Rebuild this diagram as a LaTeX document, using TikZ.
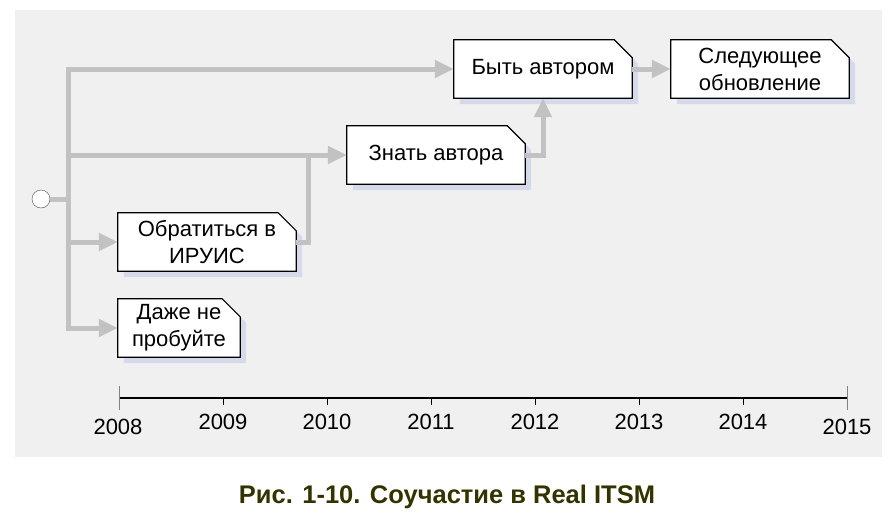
\documentclass[tikz,border=0pt]{standalone}
\usepackage{fontspec}
\setmainfont{Liberation Sans}
\usetikzlibrary{arrows.meta,backgrounds}
\definecolor{panelgray}{RGB}{240,240,240}
\definecolor{flowgray}{RGB}{194,194,194}
\definecolor{shadowblue}{RGB}{214,217,233}
\definecolor{captiongreen}{RGB}{51,51,0}
\tikzset{
  notebox/.style={minimum width=178pt, minimum height=58pt, inner sep=0pt,
    align=center, font=\fontsize{22}{27}\selectfont},
  flow/.style={line width=5pt, draw=flowgray},
  flowarrow/.style={flow, -{Triangle[length=19pt,width=17pt]}},
  year/.style={font=\fontsize{22}{26}\selectfont},
}
% box with a folded corner and a shadow
\newcommand{\foldbox}[1]{%
  \begin{scope}[on background layer]
    \fill[shadowblue] ([shift={(6pt,-6pt)}]#1.south west) -- ([shift={(6pt,-6pt)}]#1.north west)
      -- ([shift={(-12pt,-6pt)}]#1.north east) -- ([shift={(6pt,-24pt)}]#1.north east)
      -- ([shift={(6pt,-6pt)}]#1.south east) -- cycle;
    \fill[white] (#1.south west) -- (#1.north west) -- ([xshift=-18pt]#1.north east)
      -- ([yshift=-18pt]#1.north east) -- (#1.south east) -- cycle;
  \end{scope}
  \draw[line width=1.2pt] (#1.south west) -- (#1.north west) -- ([xshift=-18pt]#1.north east)
    -- ([yshift=-18pt]#1.north east) -- (#1.south east) -- cycle;}
\begin{document}
\begin{tikzpicture}[x=1pt,y=-1pt]
\useasboundingbox (0,0) rectangle (895,525);
\begin{scope}[on background layer]
\fill[panelgray] (15,10) rectangle (882,457);
\end{scope}
% start point
\node[circle, draw=black!70, fill=white, minimum size=18pt, inner sep=0pt] (start) at (41,199) {};
% boxes
\node[notebox] (author) at (543,69) {Быть автором};
\node[notebox] (next) at (760,69) {Следующее\\обновление};
\node[notebox] (know) at (436,155) {Знать автора};
\node[notebox] (iruis) at (207,242) {Обратиться в\\ИРУИС};
\node[notebox, minimum width=122pt] (never) at (179,328) {Даже не\\пробуйте};
\foreach \b in {author,next,know,iruis,never} {\foldbox{\b}}
% connectors
\coordinate (fork) at (68,199);
\coordinate (trunktop) at (68,69);
\coordinate (trunkbot) at (68,328);
\coordinate (join) at (308,155);
\draw[flow] (start) -- (fork);
\draw[flowarrow] (trunkbot) |- (author);
\draw[flowarrow] (trunktop) |- (never);
\draw[flowarrow] (fork |- know) -- (know);
\draw[flowarrow] (fork |- iruis) -- (iruis);
\draw[flow] (iruis) -| (join);
\draw[flowarrow] (know) -| (author);
\draw[flowarrow] (author) -- (next);
% time axis
\draw[line width=2.5pt] (119,398) -- (847,398);
\draw[gray] (119,386) -- (119,410);
\draw[gray] (847,386) -- (847,410);
\foreach \yr [count=\i] in {2009,...,2014} {
  \draw (119+104*\i,398) -- (119+104*\i,405);
  \node[year] at (119+104*\i,422) {\yr};
}
\node[year] at (118,427) {2008};
\node[year] at (847,427) {2015};
%
\node[font=\bfseries\fontsize{25.5}{30}\selectfont, text=captiongreen] (caption) at (447,497) {Рис. 1-10. Соучастие в Real ITSM};
\end{tikzpicture}
\end{document}
